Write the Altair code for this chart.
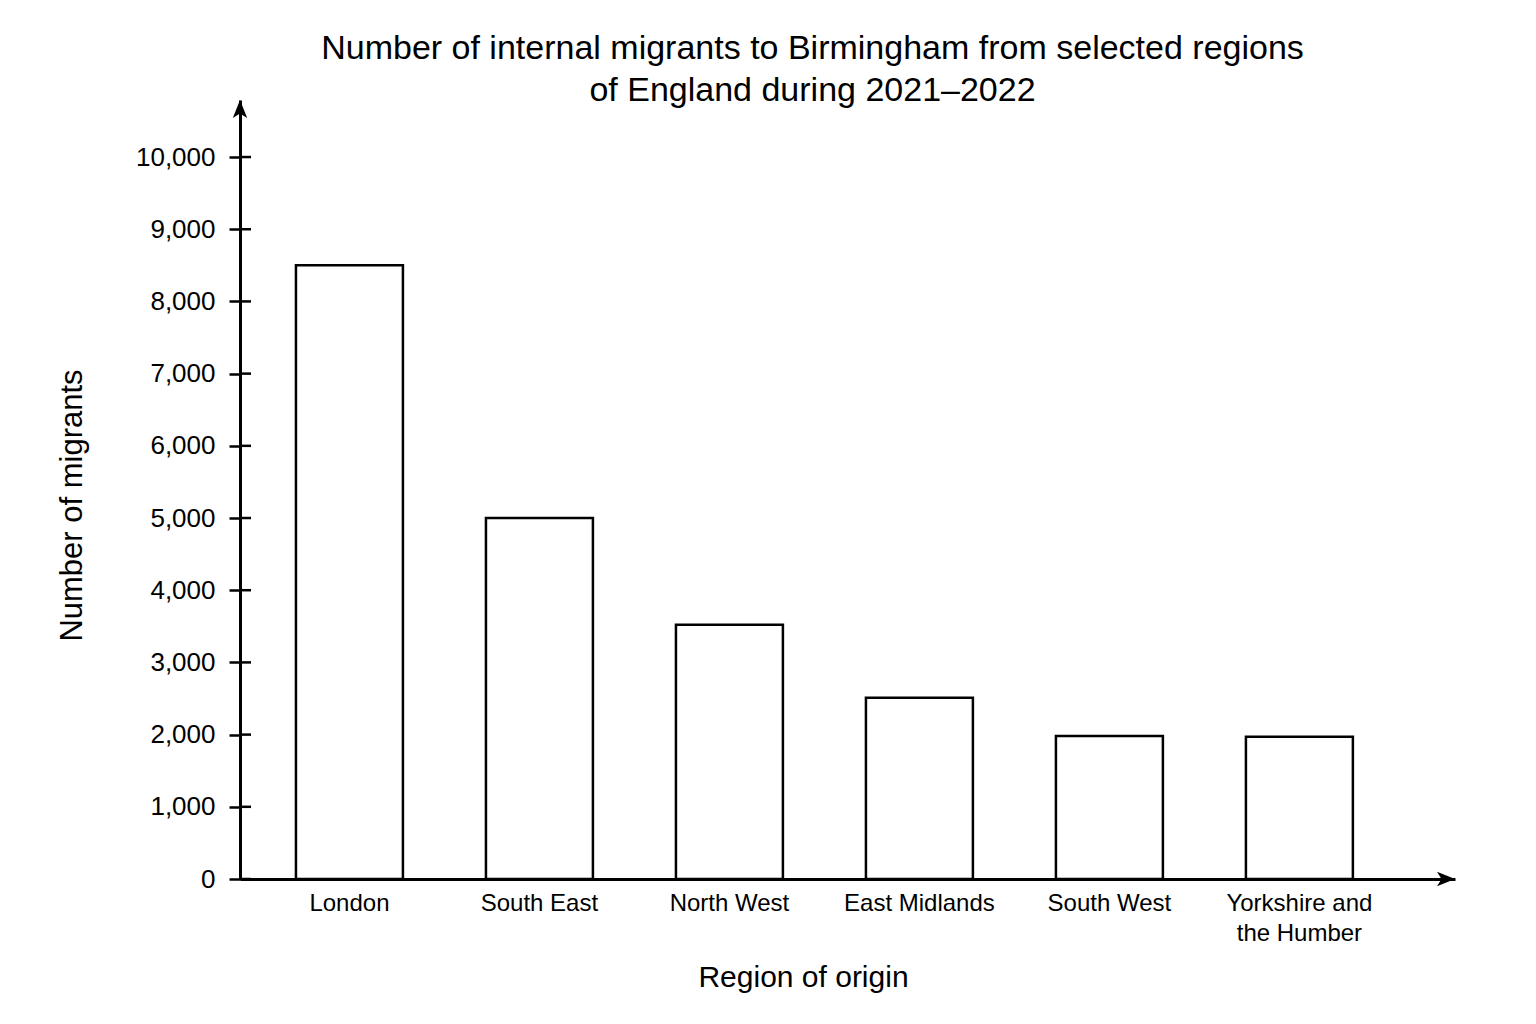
import altair as alt
import pandas as pd

regions = ["London", "South East", "North West", "East Midlands", "South West", "Yorkshire and the Humber"]
migrants = [8500, 5000, 3520, 2510, 1980, 1970]
tick_values = [0, 1000, 2000, 3000, 4000, 5000, 6000, 7000, 8000, 9000, 10000]

df = pd.DataFrame({"region": regions, "migrants": migrants})
ticks_df = pd.DataFrame({"v": tick_values})

W, H = 1215, 779
FONT = "Liberation Sans"
YMAX = 10790

xscale = alt.Scale(domain=regions, paddingInner=0.437, paddingOuter=0.416, align=0.354)
yscale = alt.Scale(domain=[0, YMAX], nice=False)

bars = alt.Chart(df).mark_bar(fill="white", stroke="black", strokeWidth=2.5).encode(
    x=alt.X("region:N", scale=xscale, sort=regions,
            axis=alt.Axis(title="Region of origin", labelAngle=0, ticks=False,
                          domainColor="black", domainWidth=3,
                          labelFont=FONT, labelFontSize=24, labelColor="black",
                          labelPadding=12, labelLineHeight=30,
                          labelExpr="datum.label == 'Yorkshire and the Humber' ? ['Yorkshire and', 'the Humber'] : datum.label",
                          titleFont=FONT, titleFontSize=30, titleFontWeight="normal", titleColor="black",
                          titleX=563, titleY=107, titleBaseline="alphabetic", titleAlign="center")),
    y=alt.Y("migrants:Q", scale=yscale,
            axis=alt.Axis(title="Number of migrants", values=tick_values, format=",.0f",
                          grid=False, tickSize=11, tickWidth=2.5, tickColor="black",
                          domainColor="black", domainWidth=3,
                          labelFont=FONT, labelFontSize=26, labelColor="black", labelPadding=14,
                          titleFont=FONT, titleFontSize=31, titleFontWeight="normal", titleColor="black",
                          titleX=-168, titleY=405, titleAngle=-90, titleBaseline="middle", titleAlign="center")),
)

inner_ticks = alt.Chart(ticks_df).mark_rule(color="black", strokeWidth=2.5).encode(
    y=alt.Y("v:Q", scale=yscale),
    x=alt.value(0),
    x2=alt.value(11),
)

up_arrow = alt.Chart(ticks_df.head(1)).mark_point(
    shape="M0,0 L-0.8,2 L0,1.5 L0.8,2 Z", filled=True, color="black", size=324, opacity=1
).encode(x=alt.value(0), y=alt.value(0))

right_arrow = alt.Chart(ticks_df.head(1)).mark_point(
    shape="M0,0 L-2,-0.8 L-1.5,0 L-2,0.8 Z", filled=True, color="black", size=324, opacity=1
).encode(x=alt.value(W), y=alt.value(H))

chart = alt.layer(bars, inner_ticks, up_arrow, right_arrow).properties(
    width=W, height=H,
    title=alt.TitleParams(
        text=["Number of internal migrants to Birmingham from selected regions",
              "of England during 2021\u20132022"],
        font=FONT, fontSize=34, fontWeight="normal", color="black",
        lineHeight=42, anchor="middle", dx=-35, offset=0, dy=8,
    ),
    autosize=alt.AutoSizeParams(type="none"),
    padding={"left": 232, "top": 92, "right": 60, "bottom": 130},
).configure(background="white", view=alt.ViewConfig(stroke=None))

chart.save("out.html", embed_options={"renderer": "svg", "actions": False})
